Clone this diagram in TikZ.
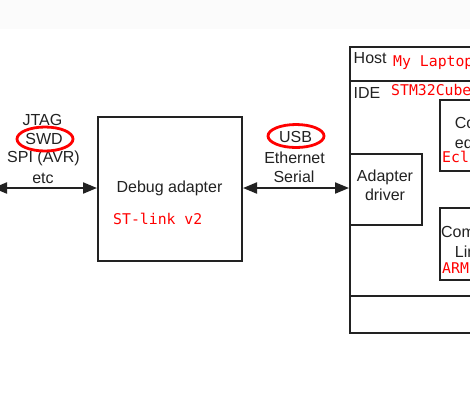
\documentclass[tikz,border=0pt]{standalone}
\usepackage{fontspec}
\setmainfont{Liberation Sans}
\setmonofont{DejaVu Sans Mono}
\usetikzlibrary{arrows.meta}
\definecolor{ink}{HTML}{222222}
\definecolor{redtxt}{HTML}{FF0000}
\definecolor{topband}{HTML}{FBFBFB}
\begin{document}
\begin{tikzpicture}[x=1pt,y=-1pt,
  box/.style={draw=ink,line width=2pt,fill=white,inner sep=0pt,anchor=north west},
  lbl/.style={text=ink,font=\fontsize{16}{19}\selectfont,inner sep=0pt,anchor=base},
  lblw/.style={lbl,anchor=base west},
  code/.style={text=redtxt,font=\fontsize{14.8}{18}\selectfont\ttfamily,inner sep=0pt,anchor=base west},
  conn/.style={draw=ink,line width=2pt,{Triangle[length=14pt,width=11pt]}-{Triangle[length=14pt,width=11pt]}},
  redring/.style={draw=redtxt,line width=2.8pt},
  sep/.style={draw=ink,line width=2pt}]
\path[fill=white] (0,0) rectangle (470,392);
\fill[topband] (0,0) rectangle (470,29);
\clip (0,0) rectangle (470,392);

% boxes
\node[box,minimum width=144pt,minimum height=144pt] (debug) at (97,116) {};
\node[box,minimum width=180pt,minimum height=286pt] (host) at (349,46) {};
\draw[sep] (349,81) coordinate (hs1) -- (530,81) coordinate (hs2);
\draw[sep] (349,296) coordinate (hs3) -- (530,296) coordinate (hs4);
\node[box,minimum width=72pt,minimum height=71pt] (driver) at (349,153) {};
\node[box,minimum width=90pt,minimum height=71pt] (editor) at (439,99) {};
\node[box,minimum width=90pt,minimum height=72pt] (cli) at (439,207) {};

% connectors
\coordinate (leftend) at (-7,188);
\draw[conn] (leftend) -- (debug.west |- leftend);
\draw[conn] (debug.east |- leftend) -- (driver.west |- leftend);

% left labels
\node[lbl] (jtag) at (42.5,125) {JTAG};
\node[lbl] (swd) at (44,144) {SWD};
\node[lbl] (spi) at (43.5,162) {SPI (AVR)};
\node[lbl] (etc) at (43,183) {etc};
\draw[redring] (45,139) ellipse [x radius=28, y radius=12];

% middle labels
\node[lbl] (usb) at (295.5,142) {USB};
\node[lbl] (eth) at (294.5,163) {Ethernet};
\node[lbl] (serial) at (294,182) {Serial};
\draw[redring] (296,136) ellipse [x radius=28, y radius=11.5];

% debug adapter text
\node[lbl] (dbgtxt) at (169.5,192) {Debug adapter};
\node[code] (stlink) at (113,224) {ST-link v2};

% host texts
\node[lblw] (hosttxt) at (353.5,63) {Host};
\node[code] (laptop) at (393,66) {My Laptop};
\node[lblw] (idetxt) at (353.5,98) {IDE};
\node[code] (stm) at (391,95) {STM32CubeIDE};
\node[lbl] (drv1) at (385,181.5) {Adapter};
\node[lbl] (drv2) at (385,200) {driver};
\node[lbl] (ed1) at (474,128.5) {Code};
\node[lbl] (ed2) at (475,148) {editor};
\node[code] (ecl) at (442,162) {Eclipse};
\node[lbl] (cl1) at (478,237) {Command};
\node[lbl] (cl2) at (470,257) {Line};
\node[code] (arm) at (442,273) {ARM GCC};
\end{tikzpicture}
\end{document}
